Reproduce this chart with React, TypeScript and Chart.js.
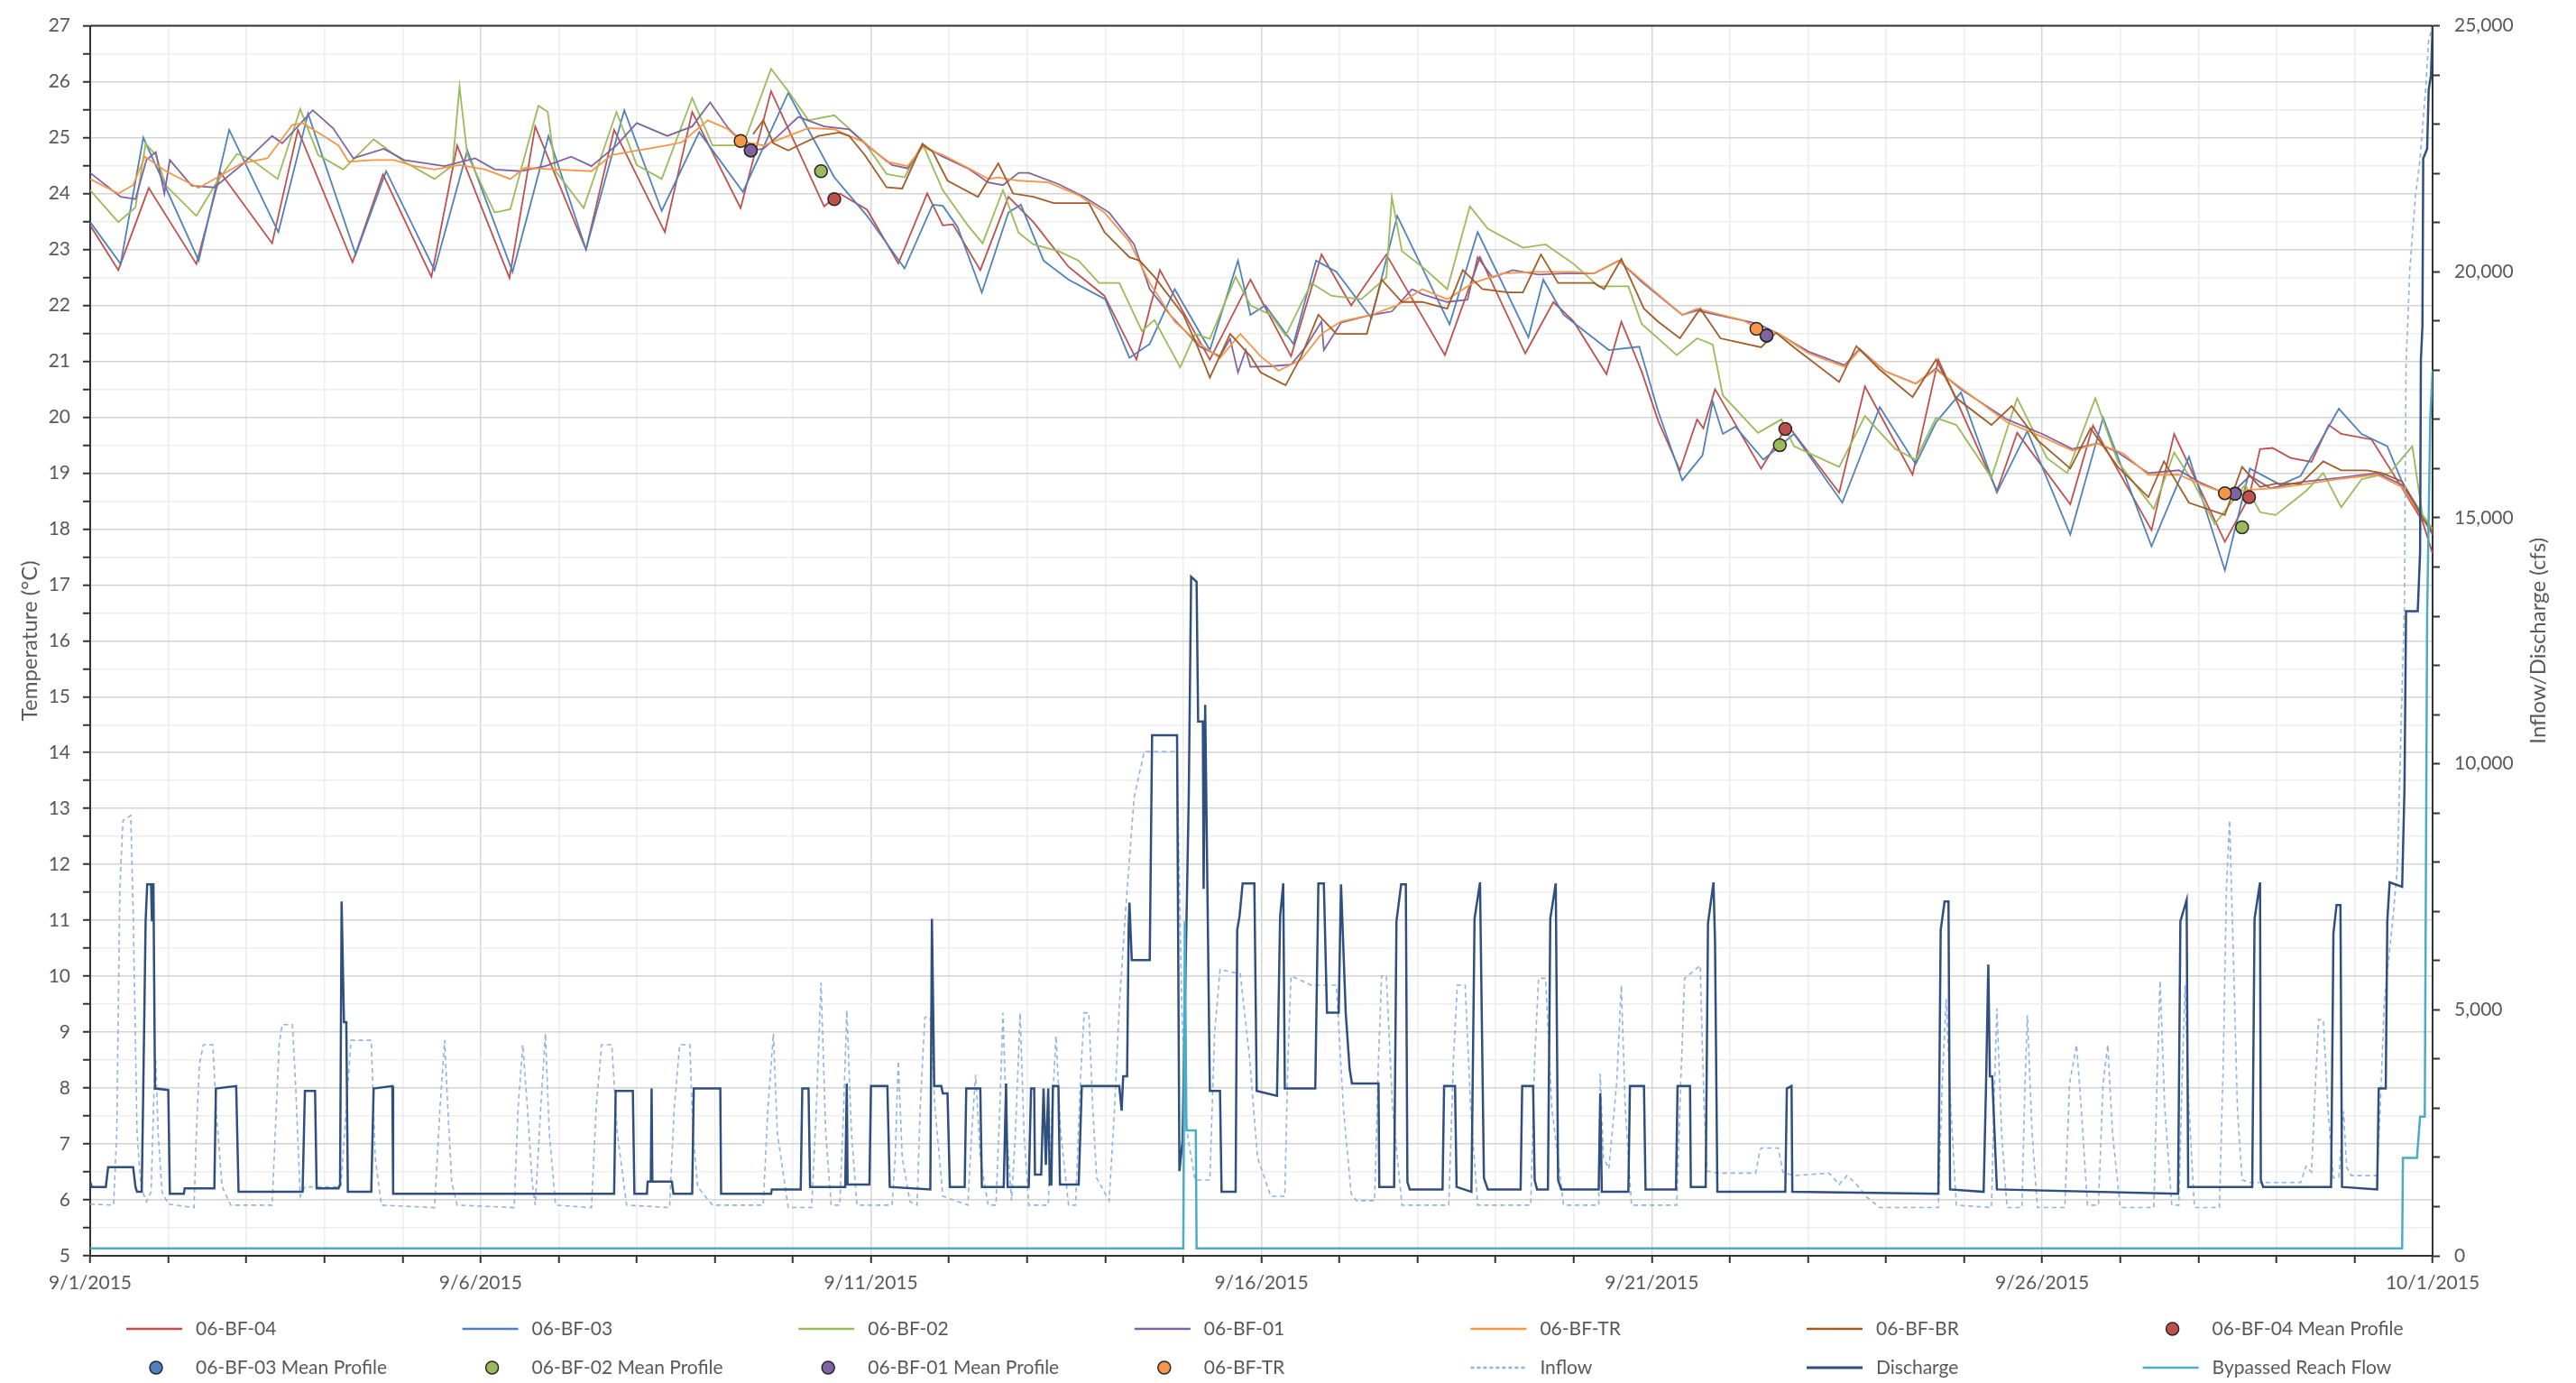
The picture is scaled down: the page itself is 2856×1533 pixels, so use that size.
import React, { useEffect, useRef } from "react";
import { Chart, registerables } from "chart.js";
Chart.register(...registerables);

type P = [number, number];

// x = days since 9/1/2015
const xTickDays = [0, 5, 10, 15, 20, 25, 30];
const xTickLabels = ["9/1/2015", "9/6/2015", "9/11/2015", "9/16/2015", "9/21/2015", "9/26/2015", "10/1/2015"];
const yTitle = "Temperature (°C)";
const y2Title = "Inflow/Discharge (cfs)";

const bf04: P[] = [[0,23.43],[0.36,22.63],[0.75,24.1],[1.36,22.74],[1.67,24.37],[2.33,23.11],[2.66,25.14],[3.36,22.77],[3.75,24.34],[4.37,22.51],[4.7,24.86],[5.37,22.49],[5.7,25.2],[6.35,23.0],[6.71,25.14],[7.36,23.31],[7.71,25.46],[8.33,23.74],[8.72,25.83],[9.4,23.77],[9.6,24.0],[9.95,23.71],[10.35,22.75],[10.72,24.0],[10.92,23.43],[11.05,23.45],[11.4,22.63],[11.76,23.94],[12.08,23.49],[12.53,22.69],[12.99,22.17],[13.4,21.03],[13.7,22.63],[14.34,21.03],[14.86,22.46],[15.38,21.09],[15.77,22.91],[16.15,22.0],[16.6,22.91],[17.35,21.11],[17.8,22.86],[18.38,21.14],[18.74,22.06],[19.0,21.71],[19.42,20.77],[19.61,21.71],[19.87,20.82],[20.08,19.94],[20.36,19.05],[20.58,19.96],[20.66,19.8],[20.81,20.5],[21.4,19.08],[21.71,19.79],[21.8,19.75],[22.4,18.65],[22.73,20.55],[23.34,18.97],[23.67,21.03],[24.42,18.68],[24.68,19.72],[25.36,18.44],[25.65,19.85],[26.4,17.98],[26.69,19.7],[27.34,17.77],[27.65,18.57],[27.79,19.43],[27.95,19.45],[28.18,19.27],[28.45,19.2],[28.67,19.86],[28.83,19.7],[29.22,19.6],[29.61,18.73],[29.87,18.14],[30,17.56]];

const bf03: P[] = [[0,23.49],[0.39,22.74],[0.68,25.0],[1.39,22.8],[1.78,25.14],[2.41,23.31],[2.79,25.43],[3.4,22.91],[3.79,24.4],[4.41,22.63],[4.83,24.77],[5.41,22.6],[5.87,25.03],[6.35,23.0],[6.84,25.49],[7.32,23.69],[7.8,25.1],[8.36,24.03],[8.94,25.8],[9.53,24.29],[9.95,23.6],[10.43,22.66],[10.79,23.8],[10.92,23.78],[11.11,23.4],[11.42,22.23],[11.76,23.66],[11.92,23.8],[12.21,22.8],[12.53,22.46],[13.0,22.11],[13.31,21.06],[13.57,21.31],[13.89,22.29],[14.34,21.2],[14.7,22.8],[14.86,21.83],[15.05,22.0],[15.41,21.31],[15.7,22.8],[15.96,22.6],[16.41,21.77],[16.74,23.6],[17.41,21.66],[17.77,23.31],[18.42,21.43],[18.61,22.46],[18.87,21.83],[19.45,21.2],[19.84,21.26],[20.08,20.11],[20.39,18.87],[20.65,19.32],[20.78,20.28],[20.91,19.7],[21.07,19.83],[21.43,19.24],[21.82,19.7],[22.44,18.47],[22.92,20.18],[23.38,19.16],[23.64,19.91],[23.96,20.44],[24.42,18.65],[24.81,19.75],[25.36,17.9],[25.78,19.99],[26.4,17.69],[26.88,19.29],[27.34,17.26],[27.66,19.08],[28.05,18.79],[28.31,18.95],[28.8,20.15],[29.09,19.7],[29.42,19.48],[29.61,18.84],[29.87,18.25],[30,18.0]];

const bf02: P[] = [[0,24.06],[0.36,23.49],[0.58,23.75],[0.71,24.89],[0.84,24.69],[0.97,24.14],[1.36,23.6],[1.62,24.2],[1.88,24.71],[2.07,24.6],[2.4,24.26],[2.69,25.51],[2.92,24.69],[3.24,24.43],[3.63,24.97],[4.02,24.57],[4.41,24.26],[4.64,24.5],[4.73,25.91],[4.83,24.69],[5.18,23.66],[5.38,23.72],[5.74,25.57],[5.86,25.46],[5.96,24.4],[6.32,23.74],[6.74,25.46],[7.0,24.51],[7.32,24.26],[7.71,25.71],[7.97,24.86],[8.36,24.86],[8.72,26.23],[8.94,25.83],[9.2,25.31],[9.53,25.4],[9.92,24.91],[10.2,24.35],[10.43,24.29],[10.66,24.89],[10.92,24.06],[11.24,23.43],[11.43,23.11],[11.69,24.06],[11.89,23.3],[12.08,23.09],[12.4,22.97],[12.66,22.8],[12.92,22.4],[13.18,22.4],[13.47,21.54],[13.63,21.74],[13.96,20.89],[14.15,21.49],[14.34,21.4],[14.67,22.51],[14.86,22.0],[15.12,21.83],[15.31,21.46],[15.64,22.4],[15.9,22.17],[16.28,22.11],[16.6,22.5],[16.67,23.94],[16.8,22.97],[17.06,22.69],[17.38,22.29],[17.67,23.77],[17.9,23.37],[18.35,23.03],[18.64,23.09],[19.0,22.74],[19.32,22.34],[19.7,22.34],[19.87,21.67],[20.32,21.11],[20.58,21.41],[20.78,21.3],[20.91,20.39],[21.36,19.72],[21.66,19.96],[21.82,19.48],[22.4,19.11],[22.73,20.02],[23.12,19.43],[23.38,19.24],[23.64,19.99],[23.9,19.86],[24.35,18.92],[24.68,20.34],[25.06,19.27],[25.32,19.0],[25.68,20.34],[25.97,19.2],[26.43,18.36],[26.69,19.37],[26.95,18.8],[27.21,18.09],[27.6,18.79],[27.79,18.3],[27.99,18.25],[28.38,18.68],[28.6,19.0],[28.83,18.39],[29.09,18.89],[29.45,19.0],[29.74,19.48],[29.87,18.25],[30,18.0]];

const bf01: P[] = [[0,24.37],[0.39,23.94],[0.58,23.9],[0.72,24.6],[0.84,24.74],[0.95,24.0],[1.02,24.6],[1.3,24.14],[1.59,24.11],[1.94,24.51],[2.33,25.03],[2.46,24.9],[2.85,25.49],[3.11,25.17],[3.37,24.63],[3.76,24.8],[4.02,24.6],[4.54,24.49],[4.93,24.63],[5.18,24.43],[5.51,24.4],[5.83,24.49],[6.16,24.66],[6.42,24.49],[6.74,24.86],[7.0,25.26],[7.39,25.03],[7.71,25.2],[7.94,25.63],[8.17,25.17],[8.46,24.77],[8.62,24.8],[8.81,25.03],[9.07,25.37],[9.4,25.2],[9.72,25.15],[9.95,24.86],[10.27,24.51],[10.47,24.45],[10.66,24.86],[10.92,24.66],[11.24,24.45],[11.5,24.2],[11.69,24.15],[11.89,24.37],[12.02,24.37],[12.4,24.17],[12.73,23.94],[13.05,23.66],[13.37,23.09],[13.57,22.29],[13.83,21.83],[14.21,21.26],[14.47,21.09],[14.6,21.4],[14.7,20.8],[14.8,21.2],[14.86,20.9],[15.12,20.91],[15.38,20.94],[15.57,21.26],[15.77,21.71],[15.8,21.2],[16.02,21.69],[16.41,21.83],[16.67,21.89],[16.93,22.29],[17.06,22.2],[17.38,22.06],[17.64,22.1],[17.77,22.86],[17.96,22.5],[18.22,22.63],[18.55,22.55],[18.87,22.57],[19.26,22.57],[19.58,22.8],[19.87,22.42],[20.39,21.83],[20.58,21.91],[20.84,21.83],[21.36,21.67],[21.62,21.49],[22.01,21.17],[22.47,20.93],[22.66,21.22],[22.99,20.82],[23.38,20.6],[23.64,20.87],[23.96,20.5],[24.55,19.96],[25.0,19.7],[25.39,19.43],[25.71,19.53],[25.97,19.37],[26.36,19.0],[26.75,19.05],[27.01,18.84],[27.4,18.6],[27.66,18.95],[27.92,18.73],[28.31,18.84],[28.83,18.92],[29.29,19.0],[29.61,18.79],[29.87,18.2],[30,17.9]];

const bfTR: P[] = [[0,24.26],[0.36,24.0],[0.55,24.15],[0.7,24.66],[0.97,24.4],[1.39,24.1],[1.69,24.34],[1.94,24.54],[2.27,24.63],[2.59,25.23],[2.72,25.26],[2.92,25.09],[3.18,24.86],[3.31,24.57],[3.63,24.6],[3.89,24.6],[4.15,24.49],[4.41,24.43],[4.73,24.51],[5.06,24.43],[5.38,24.26],[5.57,24.46],[5.96,24.43],[6.42,24.4],[6.68,24.69],[7.0,24.77],[7.39,24.86],[7.58,24.92],[7.91,25.31],[8.17,25.15],[8.33,24.94],[8.62,24.86],[8.94,25.03],[9.2,25.17],[9.53,25.15],[9.92,24.91],[10.2,24.57],[10.47,24.49],[10.66,24.83],[10.92,24.69],[11.24,24.46],[11.5,24.26],[11.63,24.29],[11.89,24.23],[12.27,24.2],[12.66,23.97],[12.99,23.66],[13.31,23.14],[13.57,22.4],[13.89,21.71],[14.21,21.31],[14.47,21.06],[14.73,21.49],[14.99,21.09],[15.22,20.83],[15.51,21.03],[15.77,21.49],[16.02,21.71],[16.41,21.83],[16.74,22.0],[17.06,22.29],[17.38,22.11],[17.71,22.4],[18.09,22.57],[18.48,22.6],[19.0,22.6],[19.26,22.57],[19.58,22.8],[19.87,22.45],[20.39,21.83],[20.58,21.94],[21.17,21.73],[21.34,21.6],[21.62,21.5],[22.01,21.14],[22.47,20.9],[22.66,21.2],[22.99,20.82],[23.38,20.6],[23.64,20.85],[24.03,20.45],[24.55,19.91],[25.0,19.65],[25.39,19.4],[25.71,19.53],[26.04,19.35],[26.36,18.97],[26.75,18.97],[27.01,18.81],[27.34,18.64],[27.66,18.7],[27.99,18.73],[28.31,18.79],[28.83,18.9],[29.29,18.97],[29.61,18.75],[29.87,18.2],[30,17.95]];

const bfBR: P[] = [[8.49,25.06],[8.62,25.31],[8.75,24.9],[8.94,24.77],[9.07,24.86],[9.33,25.03],[9.59,25.09],[9.72,25.03],[9.92,24.69],[10.2,24.11],[10.4,24.09],[10.66,24.89],[10.79,24.75],[10.98,24.23],[11.37,23.94],[11.63,24.54],[11.82,24.0],[12.08,23.94],[12.34,23.83],[12.79,23.83],[12.99,23.31],[13.31,22.86],[13.44,22.8],[13.63,22.51],[14.0,21.83],[14.15,21.37],[14.34,20.71],[14.6,21.49],[14.86,21.09],[14.99,20.8],[15.31,20.57],[15.51,21.09],[15.73,21.83],[15.96,21.49],[16.35,21.49],[16.54,22.46],[16.8,22.06],[17.06,22.06],[17.38,21.94],[17.58,22.63],[17.83,22.29],[18.16,22.23],[18.35,22.23],[18.58,22.91],[18.8,22.4],[19.26,22.4],[19.39,22.29],[19.61,22.83],[19.9,21.94],[20.08,21.71],[20.36,21.41],[20.62,21.94],[20.88,21.41],[21.4,21.25],[21.59,21.51],[21.82,21.25],[22.4,20.63],[22.62,21.27],[22.92,20.85],[23.34,20.36],[23.64,21.03],[23.9,20.34],[24.35,19.86],[24.61,20.2],[24.94,19.59],[25.36,19.08],[25.62,19.8],[25.97,19.11],[26.36,18.57],[26.56,19.21],[26.88,18.47],[27.34,18.25],[27.56,19.11],[27.79,18.75],[27.99,18.81],[28.31,18.81],[28.6,19.21],[28.83,19.05],[29.16,19.05],[29.35,19.0],[29.61,18.85],[29.87,18.2],[30,17.95]];

const mp04: P[] = [[9.53,23.9],[21.71,19.79],[27.65,18.57]];
const mp03: P[] = [[8.46,24.77],[21.47,21.46],[27.47,18.63]];
const mp02: P[] = [[9.36,24.4],[21.64,19.5],[27.56,18.03]];
const mp01: P[] = [[8.46,24.77],[21.47,21.46],[27.47,18.63]];
const mpTR: P[] = [[8.33,24.94],[21.34,21.58],[27.34,18.64]];

const inflow: P[] = [[0,1050],[0.3,1030],[0.34,2500],[0.38,7500],[0.42,8850],[0.52,8950],[0.55,7000],[0.6,2500],[0.65,1400],[0.72,1100],[0.78,1300],[0.82,3500],[0.84,4000],[0.87,2500],[0.92,1300],[1.0,1050],[1.33,980],[1.36,2500],[1.4,3900],[1.45,4290],[1.57,4290],[1.62,2800],[1.69,1400],[1.8,1030],[2.33,1030],[2.37,2500],[2.42,4300],[2.46,4700],[2.59,4700],[2.63,3500],[2.69,1210],[2.75,1400],[3.21,1400],[3.28,3000],[3.34,4380],[3.6,4380],[3.65,2000],[3.73,1030],[4.41,980],[4.48,3000],[4.54,4380],[4.58,3000],[4.63,1500],[4.7,1030],[5.43,980],[5.48,3000],[5.54,4290],[5.6,3000],[5.66,1500],[5.7,1030],[5.77,3000],[5.83,4520],[5.88,2500],[5.96,1030],[6.42,980],[6.48,3000],[6.55,4290],[6.68,4290],[6.75,2500],[6.87,1030],[7.42,980],[7.48,3000],[7.55,4290],[7.68,4290],[7.72,2500],[7.78,1400],[7.97,1030],[8.62,1030],[8.68,3000],[8.75,4520],[8.8,2500],[8.94,980],[9.24,980],[9.3,3000],[9.36,5550],[9.42,2500],[9.49,1030],[9.6,1030],[9.65,3000],[9.69,4990],[9.75,2500],[9.82,1030],[10.27,1030],[10.31,2000],[10.35,3960],[10.4,2000],[10.5,1100],[10.59,1030],[10.63,3000],[10.69,4850],[10.76,4850],[10.82,3000],[10.92,1210],[11.24,1030],[11.29,2500],[11.34,3680],[11.4,2000],[11.5,1030],[11.6,1030],[11.65,3000],[11.69,4940],[11.74,2500],[11.8,1120],[11.85,2500],[11.91,4940],[11.96,2500],[12.02,1030],[12.27,1030],[12.32,3000],[12.37,4470],[12.43,2500],[12.53,1030],[12.62,1030],[12.68,3500],[12.73,4940],[12.79,4940],[12.84,3000],[12.89,1580],[13.05,1120],[13.12,3000],[13.18,5080],[13.26,7000],[13.37,9320],[13.5,10250],[13.92,10250],[13.98,5000],[14.05,2500],[14.15,1540],[14.34,1540],[14.4,4500],[14.47,5820],[14.73,5730],[14.85,4000],[14.95,2000],[15.12,1210],[15.3,1210],[15.34,4000],[15.38,5690],[15.64,5500],[15.96,5500],[16.05,3000],[16.15,1260],[16.22,1120],[16.45,1120],[16.5,4000],[16.54,5690],[16.6,5690],[16.68,3000],[16.8,1030],[17.4,1030],[17.46,4000],[17.51,5500],[17.61,5500],[17.68,3000],[17.77,1030],[18.45,1030],[18.5,4000],[18.55,5640],[18.64,5640],[18.72,3000],[18.87,1030],[19.32,1030],[19.34,3700],[19.38,2000],[19.45,1770],[19.55,3500],[19.61,5500],[19.66,3000],[19.74,1030],[20.32,1030],[20.37,3500],[20.42,5640],[20.62,5900],[20.67,3000],[20.71,1720],[20.84,1680],[21.33,1680],[21.38,2100],[21.4,2190],[21.62,2190],[21.68,1700],[21.82,1630],[22.27,1680],[22.4,1450],[22.5,1630],[22.6,1490],[22.75,1200],[22.92,980],[23.67,980],[23.72,3500],[23.77,5220],[23.83,3000],[23.9,1030],[24.35,980],[24.39,3500],[24.42,5030],[24.48,2500],[24.55,980],[24.74,980],[24.78,3500],[24.81,4890],[24.87,2500],[24.94,980],[25.29,980],[25.35,3500],[25.44,4290],[25.5,3000],[25.58,1030],[25.72,1030],[25.78,3500],[25.84,4290],[25.9,2500],[26.0,980],[26.43,980],[26.47,3500],[26.51,5590],[26.57,3000],[26.66,1030],[26.75,1030],[26.79,3500],[26.83,5500],[26.88,3000],[26.95,980],[27.27,980],[27.32,4000],[27.36,7500],[27.4,8850],[27.45,6000],[27.5,3000],[27.56,1540],[27.66,1490],[28.31,1490],[28.38,1820],[28.45,1700],[28.5,3500],[28.54,4800],[28.6,4800],[28.66,3000],[28.73,1580],[28.8,1600],[28.86,2940],[28.9,1800],[28.96,1630],[29.29,1630],[29.33,3000],[29.38,5130],[29.5,7000],[29.55,7920],[29.6,11000],[29.64,13280],[29.66,18100],[29.71,20100],[29.78,21530],[29.84,22300],[29.91,23700],[29.95,24700],[30,25000]];

const discharge: P[] = [[0,1500],[0.02,1400],[0.2,1400],[0.23,1800],[0.55,1800],[0.58,1400],[0.6,1300],[0.66,1300],[0.68,3400],[0.71,6800],[0.73,7550],[0.78,7550],[0.79,6800],[0.8,7550],[0.81,7550],[0.83,3400],[1.0,3370],[1.02,1260],[1.2,1260],[1.21,1370],[1.59,1370],[1.61,3400],[1.87,3450],[1.9,1300],[2.72,1300],[2.75,3350],[2.88,3350],[2.9,1370],[3.18,1370],[3.2,1450],[3.22,7200],[3.25,4750],[3.28,4750],[3.3,1300],[3.6,1300],[3.63,3400],[3.87,3450],[3.88,1260],[6.71,1260],[6.73,3350],[6.95,3350],[6.97,1260],[7.13,1260],[7.14,1510],[7.18,1510],[7.19,3400],[7.2,1510],[7.45,1510],[7.47,1260],[7.71,1260],[7.73,3400],[8.07,3400],[8.08,1260],[8.72,1260],[8.73,1350],[9.1,1350],[9.12,3400],[9.2,3400],[9.22,1400],[9.67,1400],[9.69,3500],[9.7,1450],[9.98,1450],[10.0,3450],[10.21,3450],[10.24,1400],[10.76,1350],[10.78,6850],[10.81,3450],[10.9,3450],[10.92,3300],[10.98,3300],[11.01,1400],[11.2,1400],[11.22,3400],[11.4,3400],[11.42,1400],[11.7,1400],[11.73,3500],[11.75,1400],[12.02,1400],[12.05,3400],[12.09,3400],[12.1,1650],[12.18,1650],[12.21,3400],[12.24,1850],[12.27,3400],[12.29,1450],[12.31,1450],[12.33,3450],[12.4,3450],[12.42,1450],[12.66,1450],[12.7,3450],[13.18,3450],[13.21,2950],[13.23,3650],[13.28,3650],[13.3,6660],[13.31,7180],[13.34,6010],[13.57,6010],[13.6,10580],[13.92,10580],[13.95,1720],[13.99,2330],[14.07,9370],[14.1,13800],[14.17,13700],[14.19,10860],[14.25,10860],[14.26,7460],[14.28,11200],[14.34,3350],[14.47,3350],[14.49,1300],[14.67,1300],[14.69,6620],[14.72,6900],[14.76,7570],[14.91,7570],[14.94,3350],[15.2,3250],[15.24,6900],[15.28,7570],[15.3,3400],[15.69,3400],[15.73,7570],[15.8,7570],[15.84,4940],[15.99,4940],[16.02,7550],[16.08,4940],[16.13,3800],[16.16,3500],[16.5,3500],[16.51,1400],[16.7,1400],[16.73,6800],[16.79,7550],[16.85,7550],[16.87,1500],[16.9,1350],[17.32,1350],[17.34,3450],[17.48,3450],[17.5,1400],[17.69,1300],[17.73,6850],[17.8,7590],[17.85,1580],[17.9,1350],[18.32,1350],[18.34,3450],[18.48,3450],[18.5,1540],[18.53,1350],[18.67,1350],[18.7,6850],[18.77,7570],[18.8,1540],[18.84,1350],[19.32,1350],[19.34,3300],[19.36,1300],[19.7,1300],[19.72,3450],[19.9,3450],[19.92,1350],[20.31,1350],[20.33,3450],[20.49,3450],[20.5,1400],[20.69,1400],[20.72,6760],[20.79,7590],[20.81,6380],[20.84,1300],[21.71,1300],[21.73,3400],[21.79,3450],[21.8,1300],[23.67,1260],[23.7,6620],[23.75,7200],[23.8,7200],[23.82,1350],[24.25,1300],[24.28,3400],[24.31,5920],[24.33,3650],[24.36,3650],[24.42,1350],[26.74,1260],[26.77,6800],[26.85,7230],[26.87,1400],[27.69,1400],[27.72,6850],[27.79,7590],[27.8,1540],[27.83,1400],[28.7,1400],[28.73,6560],[28.77,7130],[28.82,7130],[28.84,1400],[29.29,1350],[29.31,3400],[29.4,3400],[29.42,6800],[29.45,7590],[29.61,7500],[29.64,9500],[29.66,13100],[29.81,13100],[29.84,14300],[29.85,18200],[29.87,18900],[29.88,22300],[29.93,22500],[29.95,23700],[29.98,24000],[30,25000]];

const bypassed: P[] = [[0,150],[14.0,150],[14.02,6800],[14.04,2550],[14.16,2550],[14.17,150],[29.61,150],[29.62,1990],[29.8,1990],[29.84,2830],[29.9,2830],[29.93,13000],[29.97,17000],[30,18000]];

const C = {
  r: "#C0504D", b: "#4F81BD", g: "#9BBB59", p: "#8064A2", o: "#F79646", br: "#A35C28",
  inflow: "#8EB4E3", dis: "#2F4F7F", byp: "#4BACC6",
};
const FONT = "Lato, 'Open Sans', sans-serif";
const TXT = "#595959";

type LegendItem = { label: string; kind: "line" | "dot"; color: string; dash?: number[]; width?: number };
const legendItems: LegendItem[] = [
  { label: "06-BF-04", kind: "line", color: C.r },
  { label: "06-BF-03", kind: "line", color: C.b },
  { label: "06-BF-02", kind: "line", color: C.g },
  { label: "06-BF-01", kind: "line", color: C.p },
  { label: "06-BF-TR", kind: "line", color: C.o },
  { label: "06-BF-BR", kind: "line", color: C.br },
  { label: "06-BF-04 Mean Profile", kind: "dot", color: C.r },
  { label: "06-BF-03 Mean Profile", kind: "dot", color: C.b },
  { label: "06-BF-02 Mean Profile", kind: "dot", color: C.g },
  { label: "06-BF-01 Mean Profile", kind: "dot", color: C.p },
  { label: "06-BF-TR", kind: "dot", color: C.o },
  { label: "Inflow", kind: "line", color: C.inflow, dash: [4, 3] },
  { label: "Discharge", kind: "line", color: C.dis, width: 3 },
  { label: "Bypassed Reach Flow", kind: "line", color: C.byp },
];

const pts = (a: P[]) => a.map(([x, y]) => ({ x, y }));

export default function App() {
  const ref = useRef<HTMLCanvasElement | null>(null);
  useEffect(() => {
    if (!ref.current) return;
    const lineDs = (label: string, data: P[], color: string, order: number, extra: any = {}) => ({
      type: "line" as const, label, data: pts(data), borderColor: color, backgroundColor: color,
      borderWidth: 1.8, pointRadius: 0, tension: 0, fill: false, yAxisID: "y", order, ...extra,
    });
    const dotDs = (label: string, data: P[], color: string, order: number) => ({
      type: "scatter" as const, label, data: pts(data), backgroundColor: color, borderColor: "#262626",
      borderWidth: 1.5, pointRadius: 7, showLine: false, yAxisID: "y", order,
    });

    const framePlugin = {
      id: "frame",
      afterDraw(chart: any) {
        const { ctx, chartArea: a } = chart;
        ctx.save();
        ctx.strokeStyle = "#333";
        ctx.lineWidth = 2;
        ctx.beginPath();
        ctx.moveTo(a.left, a.top);
        ctx.lineTo(a.right, a.top);
        ctx.stroke();
        // axis titles
        ctx.fillStyle = TXT;
        ctx.font = `24px ${FONT}`;
        ctx.textAlign = "center";
        ctx.textBaseline = "middle";
        const cy = (a.top + a.bottom) / 2;
        ctx.save();
        ctx.translate(33, cy);
        ctx.rotate(-Math.PI / 2);
        ctx.fillText(yTitle, 0, 0);
        ctx.restore();
        ctx.save();
        ctx.translate(2814, cy);
        ctx.rotate(-Math.PI / 2);
        ctx.fillText(y2Title, 0, 0);
        ctx.restore();
        // legend
        ctx.font = `21px ${FONT}`;
        ctx.textAlign = "left";
        legendItems.forEach((it, i) => {
          const row = Math.floor(i / 7);
          const col = i % 7;
          const x0 = 140 + col * 372.6;
          const y = row === 0 ? 1473 : 1516;
          if (it.kind === "line") {
            ctx.save();
            ctx.strokeStyle = it.color;
            ctx.lineWidth = it.width || 2.5;
            ctx.setLineDash(it.dash || []);
            ctx.beginPath();
            ctx.moveTo(x0, y);
            ctx.lineTo(x0 + 62, y);
            ctx.stroke();
            ctx.restore();
          } else {
            ctx.save();
            ctx.fillStyle = it.color;
            ctx.strokeStyle = "#262626";
            ctx.lineWidth = 1.5;
            ctx.beginPath();
            ctx.arc(x0 + 33, y, 7, 0, Math.PI * 2);
            ctx.fill();
            ctx.stroke();
            ctx.restore();
          }
          ctx.fillStyle = TXT;
          ctx.fillText(it.label, x0 + 77, y);
        });
        ctx.restore();
      },
    };

    const chart = new Chart(ref.current, {
      type: "line",
      data: {
        datasets: [
          lineDs("06-BF-04", bf04, C.r, 20),
          lineDs("06-BF-03", bf03, C.b, 19),
          lineDs("06-BF-02", bf02, C.g, 18),
          lineDs("06-BF-01", bf01, C.p, 17),
          lineDs("06-BF-TR", bfTR, C.o, 16),
          lineDs("06-BF-BR", bfBR, C.br, 15),
          dotDs("06-BF-04 Mean Profile", mp04, C.r, 4),
          dotDs("06-BF-03 Mean Profile", mp03, C.b, 3),
          dotDs("06-BF-02 Mean Profile", mp02, C.g, 2),
          dotDs("06-BF-01 Mean Profile", mp01, C.p, 1),
          dotDs("06-BF-TR", mpTR, C.o, 0),
          lineDs("Inflow", inflow, C.inflow, 12, { yAxisID: "y2", borderDash: [5, 4], borderWidth: 1.6 }),
          lineDs("Discharge", discharge, C.dis, 11, { yAxisID: "y2", borderWidth: 2.5 }),
          lineDs("Bypassed Reach Flow", bypassed, C.byp, 10, { yAxisID: "y2", borderWidth: 2.5 }),
        ] as any,
      },
      options: {
        responsive: false,
        devicePixelRatio: 1,
        animation: false,
        layout: { padding: { top: 23, left: 0, right: 0, bottom: 0 } },
        plugins: { legend: { display: false }, tooltip: { enabled: false }, title: { display: false } },
        scales: {
          x: {
            type: "linear", min: 0, max: 30,
            afterFit: (s: any) => { s.height = 141; },
            afterBuildTicks: (s: any) => { s.ticks = Array.from({ length: 31 }, (_, i) => ({ value: i })); },
            ticks: {
              autoSkip: false, maxRotation: 0, minRotation: 0, padding: 10,
              color: TXT, font: { family: FONT, size: 21 },
              callback: (v: any) => { const i = xTickDays.indexOf(Number(v)); return i >= 0 ? xTickLabels[i] : ""; },
            },
            grid: {
              color: (c: any) => (c.tick && c.tick.value % 5 === 0 ? "#D6D6D6" : "#EDEDED"),
              lineWidth: 1.5, tickLength: 8, tickColor: "#333", tickWidth: 2,
            },
            border: { color: "#333", width: 2 },
          },
          y: {
            type: "linear", position: "left", min: 5, max: 27,
            afterFit: (s: any) => { s.width = 100; },
            afterBuildTicks: (s: any) => { s.ticks = Array.from({ length: 45 }, (_, i) => ({ value: 5 + i * 0.5 })); },
            ticks: {
              autoSkip: false, padding: 14, color: TXT, font: { family: FONT, size: 21 },
              callback: (v: any) => (Number.isInteger(Number(v)) ? String(v) : ""),
            },
            grid: {
              color: (c: any) => (c.tick && Number.isInteger(c.tick.value) ? "#D3D3D3" : "#EEEEEE"),
              lineWidth: 1.5, tickLength: 8, tickColor: "#333", tickWidth: 2,
            },
            border: { color: "#333", width: 2 },
          },
          y2: {
            type: "linear", position: "right", min: 0, max: 25000,
            afterFit: (s: any) => { s.width = 159; },
            afterBuildTicks: (s: any) => { s.ticks = Array.from({ length: 26 }, (_, i) => ({ value: i * 1000 })); },
            ticks: {
              autoSkip: false, padding: 16, color: TXT, font: { family: FONT, size: 21 },
              callback: (v: any) => (Number(v) % 5000 === 0 ? Number(v).toLocaleString("en-US") : ""),
            },
            grid: { drawOnChartArea: false, tickLength: 8, tickColor: "#333", tickWidth: 2 },
            border: { color: "#333", width: 2 },
          },
        },
      } as any,
      plugins: [framePlugin],
    });
    return () => chart.destroy();
  }, []);
  return (
    <div style={{ position: "fixed", left: 0, top: 0, width: 2856, height: 1533, background: "#fff" }}>
      <canvas ref={ref} width={2856} height={1533} style={{ width: 2856, height: 1533, display: "block" }} />
    </div>
  );
}
